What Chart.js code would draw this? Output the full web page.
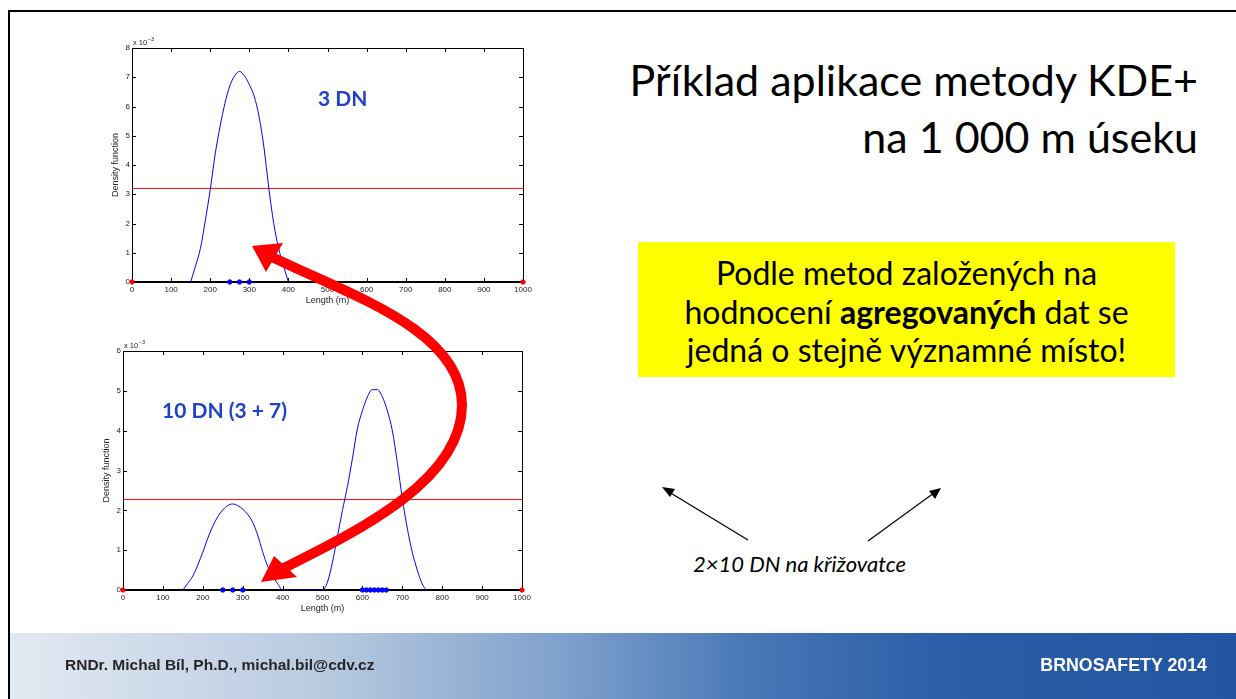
<!DOCTYPE html>
<html>
<head>
<meta charset="utf-8">
<script src="https://cdn.jsdelivr.net/npm/chart.js@4"></script>
<style>
  html, body { margin: 0; padding: 0; }
  body { width: 1236px; height: 699px; position: relative; overflow: hidden; background: #fff; font-family: Lato, "Noto Sans", sans-serif; }
  .abs { position: absolute; }
  #frameTop { left: 8px; top: 10px; width: 1228px; height: 2px; background: #000; }
  #frameLeft { left: 8px; top: 10px; width: 2px; height: 689px; background: #000; }
  #band { left: 10px; top: 633px; width: 1226px; height: 66px;
    background: linear-gradient(to right, #e2e9f2 0%, #b9cbe0 25%, #7fa1cc 45%, #4a78b8 60%, #2a5ea7 76%, #2256a0 100%); }
  #author { left: 65px; top: 656px; font: bold 15.5px "Liberation Sans", Arial, sans-serif; color: #262626; }
  #conf { right: 29px; top: 655px; font: bold 17.8px "Liberation Sans", Arial, sans-serif; color: #fff; }
  #title { right: 38px; top: 51px; text-align: right; font-size: 43px; line-height: 57px; color: #000; white-space: nowrap; }
  #note { left: 638px; top: 242px; width: 537px; height: 135px; background: #ffff00; text-align: center;
    font-size: 32px; line-height: 38.5px; color: #000; padding-top: 12px; box-sizing: border-box; white-space: nowrap; }
  #note b { font-weight: 700; }
  #junction { left: 693px; top: 550px; font-size: 22px; font-style: italic; color: #000; white-space: nowrap; }
  .dn { font-weight: 700; color: #1f42c9; font-size: 21px; white-space: nowrap; }
  #dn3 { left: 318px; top: 85px; }
  #dn10 { left: 162px; top: 397px; }
  canvas { position: absolute; }
  #c1 { left: 90px; top: 30px; }
  #c2 { left: 85px; top: 335px; }
  svg { position: absolute; left: 0; top: 0; }
</style>
</head>
<body>
<div id="frameTop" class="abs"></div>
<div id="frameLeft" class="abs"></div>

<canvas id="c1" width="450" height="280"></canvas>
<canvas id="c2" width="455" height="283"></canvas>

<div id="dn3" class="abs dn">3 DN</div>
<div id="dn10" class="abs dn">10 DN (3 + 7)</div>

<div id="title" class="abs">Příklad aplikace metody KDE+<br>na 1 000 m úseku</div>
<div id="note" class="abs">Podle metod založených na<br>hodnocení <b>agregovaných</b> dat se<br>jedná o stejně významné místo!</div>
<div id="junction" class="abs">2×10 DN na křižovatce</div>

<svg width="1236" height="699">
  <!-- big red curved arrow between the two charts -->
  <path d="M 272 257 C 350 295 462 330 462 405 C 462 480 360 530 282 569" fill="none" stroke="#ff0000" stroke-width="10"/>
  <polygon points="252,246 283,243 266,272" fill="#ff0000"/>
  <polygon points="261,582 274,556 297,577" fill="#ff0000"/>
  <!-- black arrows to the junction note -->
  <line x1="748" y1="540" x2="669" y2="492" stroke="#000" stroke-width="1.2"/>
  <polygon points="662,487 675,489 670,497" fill="#000"/>
  <line x1="868" y1="541" x2="934" y2="493" stroke="#000" stroke-width="1.2"/>
  <polygon points="941,488 935,499 929,491" fill="#000"/>
</svg>

<div id="band" class="abs"></div>
<div id="author" class="abs">RNDr. Michal Bíl, Ph.D., michal.bil@cdv.cz</div>
<div id="conf" class="abs">BRNOSAFETY 2014</div>

<script>
// ---- data (density values in units of 10^-3) ----
// 3 DN on the 1000 m section
const length1 = [150, 162.5, 175, 187.5, 200, 212.5, 225, 237.5, 250, 262.5, 275, 287.5, 300, 312.5, 325, 337.5, 350, 362.5, 375, 387.5, 400];
const density1 = [0, 0.55, 1.15, 2.1, 3.15, 4.35, 5.3, 6.1, 6.7, 7.05, 7.2, 7.05, 6.75, 6.35, 5.65, 4.6, 3.2, 2.0, 1.15, 0.55, 0];
const accidents1 = [250, 275, 300];
const threshold1 = 3.2;

// 10 DN (3 + 7)
const length2 = [150, 162.5, 175, 187.5, 200, 212.5, 225, 237.5, 250, 262.5, 275, 287.5, 300, 312.5, 325, 337.5, 350, 362.5, 375, 387.5, 400,
  500, 512.5, 525, 537.5, 550, 562.5, 575, 587.5, 600, 612.5, 625, 637.5, 650, 662.5, 675, 687.5, 700, 712.5, 725, 737.5, 750, 760];
const density2 = [0, 0.17, 0.35, 0.63, 0.95, 1.3, 1.6, 1.84, 2.01, 2.12, 2.16, 2.12, 2.03, 1.9, 1.7, 1.38, 0.96, 0.6, 0.35, 0.16, 0,
  0, 0.2, 0.7, 1.35, 2.0, 2.6, 3.3, 4.05, 4.5, 4.85, 5.03, 5.03, 4.85, 4.5, 4.0, 3.2, 2.3, 1.55, 0.95, 0.5, 0.15, 0];
const accidents2 = [250, 275, 300, 600, 610, 620, 630, 640, 650, 660];
const threshold2 = 2.27;

const sectionEnds = [0, 1000];
const xTicks = [0, 100, 200, 300, 400, 500, 600, 700, 800, 900, 1000];

// matlab-like box with inward ticks on every side, plus the "x 10^-3" exponent
const matlabFrame = {
  id: "matlabFrame",
  beforeDatasetsDraw(chart) {
    const ctx = chart.ctx;
    const a = chart.chartArea;
    const x = chart.scales.x;
    const y = chart.scales.y;
    ctx.save();
    ctx.strokeStyle = "#000";
    ctx.lineWidth = 1;
    ctx.strokeRect(Math.round(a.left) + 0.5, Math.round(a.top) + 0.5, Math.round(a.right - a.left), Math.round(a.bottom - a.top));
    ctx.beginPath();
    x.ticks.forEach((t) => {
      const px = Math.round(x.getPixelForValue(t.value)) + 0.5;
      ctx.moveTo(px, a.bottom); ctx.lineTo(px, a.bottom - 4);
      ctx.moveTo(px, a.top); ctx.lineTo(px, a.top + 4);
    });
    y.ticks.forEach((t) => {
      const py = Math.round(y.getPixelForValue(t.value)) + 0.5;
      ctx.moveTo(a.left, py); ctx.lineTo(a.left + 4, py);
      ctx.moveTo(a.right, py); ctx.lineTo(a.right - 4, py);
    });
    ctx.stroke();
    // heavier baseline at y = 0
    ctx.lineWidth = 2;
    ctx.beginPath();
    ctx.moveTo(a.left, Math.round(y.getPixelForValue(0)));
    ctx.lineTo(a.right, Math.round(y.getPixelForValue(0)));
    ctx.stroke();
    ctx.restore();
  },
  afterDraw(chart) {
    const ctx = chart.ctx;
    const a = chart.chartArea;
    ctx.save();
    ctx.fillStyle = "#222";
    ctx.font = "7.5px 'Liberation Sans'";
    ctx.textBaseline = "alphabetic";
    ctx.fillText("x 10", a.left + 1, a.top - 3);
    const w = ctx.measureText("x 10").width;
    ctx.font = "5.5px 'Liberation Sans'";
    ctx.fillText("\u22123", a.left + 1.5 + w, a.top - 7);
    ctx.restore();
  },
};

function makeChart(id, xs, ys, acc, thr, yMax, geo) {
  const curve = xs.map((v, i) => ({ x: v, y: ys[i] }));
  return new Chart(document.getElementById(id), {
    type: "scatter",
    data: {
      datasets: [
        {
          data: sectionEnds.map((v) => ({ x: v, y: 0 })),
          backgroundColor: "#ff0000",
          borderColor: "#ff0000",
          pointRadius: 2.2,
          clip: false,
        },
        {
          data: acc.map((v) => ({ x: v, y: 0 })),
          backgroundColor: "#0000ff",
          borderColor: "#0000ff",
          pointRadius: 2.2,
          clip: false,
        },
        {
          data: curve,
          showLine: true,
          borderColor: "#0000ff",
          borderWidth: 1,
          pointRadius: 0,
          cubicInterpolationMode: "monotone",
        },
        {
          data: [{ x: 0, y: thr }, { x: 1000, y: thr }],
          showLine: true,
          borderColor: "#ff0000",
          borderWidth: 1,
          pointRadius: 0,
        },
      ],
    },
    options: {
      responsive: false,
      animation: false,
      layout: { padding: { left: 0, right: geo.padRight, top: geo.padTop, bottom: 0 } },
      plugins: { legend: { display: false }, tooltip: { enabled: false } },
      scales: {
        x: {
          type: "linear",
          min: 0,
          max: 1000,
          afterBuildTicks: (scale) => { scale.ticks = xTicks.map((v) => ({ value: v })); },
          afterFit: (scale) => { scale.height = 28; },
          grid: { display: false, drawTicks: false },
          border: { display: false },
          ticks: { padding: 3, color: "#222", font: { family: "Liberation Sans", size: 8 }, callback: (v) => String(v) },
          title: { display: true, text: "Length (m)", color: "#222", padding: { top: 0, bottom: 4 }, font: { family: "Liberation Sans", size: 9 } },
        },
        y: {
          min: 0,
          max: yMax,
          afterFit: (scale) => { scale.width = geo.yWidth; },
          grid: { display: false, drawTicks: false },
          border: { display: false },
          ticks: { stepSize: 1, padding: 2, color: "#222", font: { family: "Liberation Sans", size: 8 }, callback: (v) => String(v) },
          title: { display: true, text: "Density function", color: "#222", padding: { top: geo.yTitlePad, bottom: 0 }, font: { family: "Liberation Sans", size: 9 } },
        },
      },
    },
    plugins: [matlabFrame],
  });
}

makeChart("c1", length1, density1, accidents1, threshold1, 8, { padRight: 17, padTop: 18, yWidth: 42, yTitlePad: 20 });
makeChart("c2", length2, density2, accidents2, threshold2, 6, { padRight: 18, padTop: 16, yWidth: 38, yTitlePad: 16 });
</script>
</body>
</html>
